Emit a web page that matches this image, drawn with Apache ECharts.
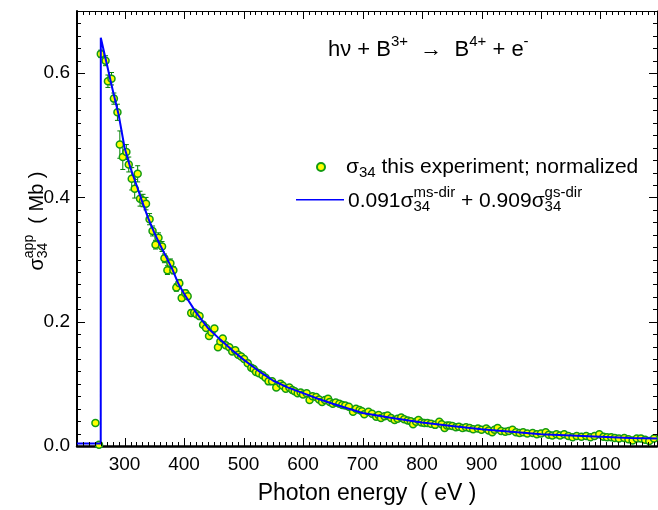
<!DOCTYPE html>
<html><head><meta charset="utf-8">
<script src="https://cdn.jsdelivr.net/npm/echarts@6/dist/echarts.min.js"></script>
<style>html,body{margin:0;padding:0;background:#fff}#c{width:658px;height:510px}</style>
</head><body><div id="c"></div>
<script>
const FONT = '"Liberation Sans", Arial, sans-serif';

// ---- axis ticks / labels ----
const xMajorTicks = [300, 400, 500, 600, 700, 800, 900, 1000, 1100];
const yMajorTicks = [0, 0.2, 0.4, 0.6];
const xRange = [220, 1195];
const yRange = [0, 0.7];
const xMinorStep = 10;
const yMinorStep = 0.02;

// ---- fit curve: 0.091 ms-dir + 0.909 gs-dir ----
const fitE = [220, 259.9, 260, 270, 280, 290, 300, 310, 320, 330, 340, 350, 360, 370, 380, 390, 400, 420, 440, 460, 480, 500, 525, 550, 575, 600, 625, 650, 700, 750, 800, 850, 900, 950, 1000, 1050, 1100, 1150, 1195];
const fitV = [0.004, 0.004, 0.657, 0.615, 0.573, 0.533, 0.48, 0.447, 0.42, 0.392, 0.366, 0.343, 0.323, 0.304, 0.285, 0.262, 0.245, 0.215, 0.19, 0.172, 0.155, 0.139, 0.121, 0.105, 0.094, 0.085, 0.076, 0.068, 0.053, 0.045, 0.038, 0.032, 0.027, 0.023, 0.019, 0.017, 0.015, 0.013, 0.012];

// ---- experiment (normalized) ----
const expE = [251,257,260,268,272,278,282,288,292,297,303,307,312,317,322,326,331,336,342,347,352,357,363,367,372,377,382,387,392,396,402,406,412,417,421,426,432,437,442,446,451,457,461,465,470,476,481,486,491,496,501,507,513,517,521,526,532,537,542,548,555,562,566,571,577,582,586,591,596,600,606,611,616,622,627,632,637,642,645,650,655,661,666,671,677,684,689,695,699,703,710,716,723,727,731,737,742,748,754,759,765,770,776,781,785,790,794,799,804,809,815,822,829,833,838,842,846,851,857,862,868,874,880,886,894,900,908,912,918,922,927,933,940,946,952,958,964,970,977,986,993,1000,1008,1013,1019,1026,1032,1039,1046,1053,1060,1068,1076,1083,1090,1098,1105,1111,1118,1124,1131,1140,1147,1154,1161,1168,1175,1182,1190];
const expV = [0.037,0.002,0.631,0.62,0.587,0.591,0.559,0.537,0.485,0.465,0.473,0.453,0.43,0.414,0.438,0.398,0.395,0.39,0.365,0.346,0.324,0.335,0.321,0.302,0.283,0.294,0.283,0.255,0.262,0.238,0.246,0.241,0.214,0.215,0.212,0.209,0.195,0.19,0.177,0.183,0.189,0.159,0.168,0.173,0.162,0.159,0.152,0.154,0.147,0.144,0.14,0.133,0.126,0.124,0.119,0.117,0.114,0.11,0.104,0.104,0.094,0.1,0.097,0.092,0.094,0.09,0.088,0.085,0.086,0.083,0.085,0.074,0.08,0.079,0.075,0.071,0.074,0.076,0.071,0.068,0.07,0.068,0.066,0.065,0.063,0.055,0.06,0.058,0.056,0.051,0.055,0.052,0.047,0.05,0.045,0.048,0.049,0.045,0.042,0.044,0.046,0.043,0.041,0.04,0.035,0.039,0.042,0.038,0.037,0.037,0.036,0.034,0.039,0.035,0.029,0.033,0.033,0.032,0.03,0.031,0.029,0.03,0.029,0.027,0.028,0.026,0.028,0.025,0.022,0.026,0.029,0.024,0.023,0.024,0.026,0.022,0.021,0.022,0.02,0.021,0.019,0.02,0.022,0.018,0.017,0.019,0.017,0.019,0.016,0.014,0.016,0.015,0.016,0.014,0.016,0.019,0.015,0.014,0.014,0.013,0.012,0.013,0.011,0.009,0.012,0.012,0.01,0.008,0.012];
// error bars for the first points (same order as expE)
const expErr = [0.004,0.003,0.006,0.008,0.01,0.01,0.009,0.013,0.022,0.02,0.012,0.012,0.018,0.015,0.013,0.012,0.01,0.01,0.009,0.008,0.007,0.008,0.008,0.007,0.007,0.007,0.006,0.006,0.006,0.005,0.005,0.005,0.005,0.004,0.004,0.004];

// minor tick positions (between the major ticks)
const xMinorTicks = [];
for (let v = 230; v < xRange[1]; v += xMinorStep) if (v % 100 !== 0) xMinorTicks.push(v);
const yMinorTicks = [];
for (let i = 1; i < 35; i++) if (i % 10 !== 0) yMinorTicks.push(+(i * yMinorStep).toFixed(2));

const fitData = fitE.map((e, i) => [e, fitV[i]]);
const expData = expE.map((e, i) => [e, expV[i]]);
const errData = expErr.map((er, i) => [expE[i], expV[i], er]);
// kind: 1 major x tick, 2 major y tick, 3 minor x tick, 4 minor y tick
const tickData = xMajorTicks.map(v => [v, 0.35, 1])
  .concat(yMajorTicks.filter(v => v > 0).map(v => [700, v, 2]))
  .concat(xMinorTicks.map(v => [v, 0.35, 3]))
  .concat(yMinorTicks.map(v => [700, v, 4]));

// ---- text helpers ----
const cv = document.createElement('canvas').getContext('2d');
function tw(s, size) { cv.font = size + 'px ' + FONT; return cv.measureText(s).width; }
function txt(t, x, y, size) {
  return { type: 'text', x: x, y: y, silent: true,
    style: { text: t, font: size + 'px ' + FONT, fill: '#000', textAlign: 'left', textVerticalAlign: 'middle' } };
}
function textRow(list, x0, y0) {
  const out = []; let x = x0;
  for (const p of list) {
    if (p.stack) {
      let w = 0;
      for (const q of p.stack) { out.push(txt(q.t, x, y0 + q.dy, q.size)); w = Math.max(w, tw(q.t, q.size)); }
      x += w;
    } else {
      out.push(txt(p.t, x, y0 + (p.dy || 0), p.size)); x += tw(p.t, p.size);
    }
  }
  return { els: out, width: x - x0 };
}
const FT = 22, ST = 15;
const title = textRow([
  { t: 'hν + B', size: FT }, { t: '3+', size: ST, dy: -8 },
  { t: '  →  B', size: FT }, { t: '4+', size: ST, dy: -8 },
  { t: ' + e', size: FT }, { t: '-', size: ST, dy: -8 }
], 328, 50);
const FL = 21, SL = 15;
const leg1 = textRow([
  { t: 'σ', size: FL }, { t: '34', size: SL, dy: 6 },
  { t: ' this experiment; normalized', size: FL }
], 346, 167);
const leg2 = textRow([
  { t: '0.091σ', size: FL }, { stack: [{ t: 'ms-dir', size: SL, dy: -8 }, { t: '34', size: SL, dy: 6 }] },
  { t: ' + 0.909σ', size: FL }, { stack: [{ t: 'gs-dir', size: SL, dy: -8 }, { t: '34', size: SL, dy: 6 }] }
], 348, 201);
const FY = 20, SY = 14;
const ylab = textRow([
  { t: 'σ', size: FY }, { stack: [{ t: 'app', size: SY, dy: -8 }, { t: '34', size: SY, dy: 6 }] },
  { t: '  ( Mb )', size: FY }
], 0, 0);
ylab.els.forEach(e => { e.x -= ylab.width / 2; });

// ---- axes ----
const xs = [
  { type: 'value', position: 'bottom', min: xRange[0], max: xRange[1],
    axisLine: { show: true, onZero: false, lineStyle: { color: '#000', width: 2.5 } },
    axisTick: { show: false },
    axisLabel: { customValues: xMajorTicks, margin: 9, fontSize: 19, color: '#000', fontFamily: FONT, formatter: v => String(v) },
    splitLine: { show: false },
    name: 'Photon energy  ( eV )', nameLocation: 'middle', nameGap: 36,
    nameTextStyle: { fontSize: 23, color: '#000', fontFamily: FONT } },
  { type: 'value', position: 'top', min: xRange[0], max: xRange[1],
    axisLine: { show: true, onZero: false, lineStyle: { color: '#000', width: 1 } },
    axisTick: { show: false }, axisLabel: { show: false }, splitLine: { show: false } }
];
const ys = [
  { type: 'value', position: 'left', min: yRange[0], max: yRange[1],
    axisLine: { show: true, onZero: false, lineStyle: { color: '#000', width: 2 } },
    axisTick: { show: false },
    axisLabel: { customValues: yMajorTicks, margin: 7, fontSize: 19, color: '#000', fontFamily: FONT, formatter: v => Number(v).toFixed(1) },
    splitLine: { show: false } },
  { type: 'value', position: 'right', min: yRange[0], max: yRange[1],
    axisLine: { show: true, onZero: false, lineStyle: { color: '#000', width: 1 } },
    axisTick: { show: false }, axisLabel: { show: false }, splitLine: { show: false } }
];

function tickItem(params, api) {
  const kind = api.value(2);
  const st = { stroke: '#000', lineWidth: 1 };
  const r = n => Math.round(n) + 0.5;
  if (kind === 1 || kind === 3) {
    const v = api.value(0), L = kind === 1 ? 8 : 4;
    const b = api.coord([v, yRange[0]]), t = api.coord([v, yRange[1]]);
    return { type: 'group', children: [
      { type: 'line', shape: { x1: r(b[0]), y1: b[1], x2: r(b[0]), y2: b[1] - L }, style: st },
      { type: 'line', shape: { x1: r(t[0]), y1: t[1], x2: r(t[0]), y2: t[1] + L }, style: st }
    ] };
  }
  const v = api.value(1), L = kind === 2 ? 8 : 4;
  const l = api.coord([xRange[0], v]), rt = api.coord([xRange[1], v]);
  return { type: 'group', children: [
    { type: 'line', shape: { x1: l[0], y1: r(l[1]), x2: l[0] + L, y2: r(l[1]) }, style: st },
    { type: 'line', shape: { x1: rt[0], y1: r(rt[1]), x2: rt[0] - L, y2: r(rt[1]) }, style: st }
  ] };
}

const option = {
  animation: false,
  grid: { left: 77, right: 1, top: 11, bottom: 61 },
  xAxis: xs,
  yAxis: ys,
  legend: [
    { data: ['exp'], left: 316, top: 162, padding: 0, itemWidth: 8, itemHeight: 8, selectedMode: false, formatter: () => '' },
    { data: [{ name: 'fit', icon: 'rect' }], left: 296, top: 199, padding: 0, itemWidth: 48, itemHeight: 1.5, selectedMode: false, formatter: () => '' }
  ],
  series: [
    { type: 'custom', name: 'ticks', xAxisIndex: 0, yAxisIndex: 0, z: 6, clip: false, silent: true, data: tickData, renderItem: tickItem },
    { type: 'custom', name: 'err', xAxisIndex: 0, yAxisIndex: 0, z: 1, data: errData,
      renderItem: (params, api) => {
        const x = api.value(0), y = api.value(1), e = api.value(2);
        const t = api.coord([x, y + e]), b = api.coord([x, y - e]);
        const c = 2.5, st = { stroke: '#008000', lineWidth: 1 };
        return { type: 'group', children: [
          { type: 'line', shape: { x1: t[0], y1: t[1], x2: b[0], y2: b[1] }, style: st },
          { type: 'line', shape: { x1: t[0] - c, y1: t[1], x2: t[0] + c, y2: t[1] }, style: st },
          { type: 'line', shape: { x1: b[0] - c, y1: b[1], x2: b[0] + c, y2: b[1] }, style: st }
        ] };
      } },
    { type: 'scatter', name: 'exp', xAxisIndex: 0, yAxisIndex: 0, z: 2, data: expData,
      symbol: 'circle', symbolSize: 7,
      itemStyle: { color: '#ffff00', borderColor: '#129b12', borderWidth: 1.5, opacity: 1 } },
    { type: 'line', name: 'fit', xAxisIndex: 0, yAxisIndex: 0, z: 3, data: fitData,
      showSymbol: false, symbol: 'none', smooth: false,
      lineStyle: { color: '#0000ff', width: 2 }, itemStyle: { color: '#0000ff' } }
  ],
  graphic: [
    ...title.els, ...leg1.els, ...leg2.els,
    { type: 'group', x: 37, y: 221, rotation: Math.PI / 2, children: ylab.els }
  ]
};

const chart = echarts.init(document.getElementById('c'));
chart.setOption(option);
// re-apply once the page has settled (in this build a second pass draws all tick marks)
setTimeout(() => { chart.setOption(option, true); }, 60);
setTimeout(() => { chart.setOption(option, true); }, 160);
</script>
</body></html>
